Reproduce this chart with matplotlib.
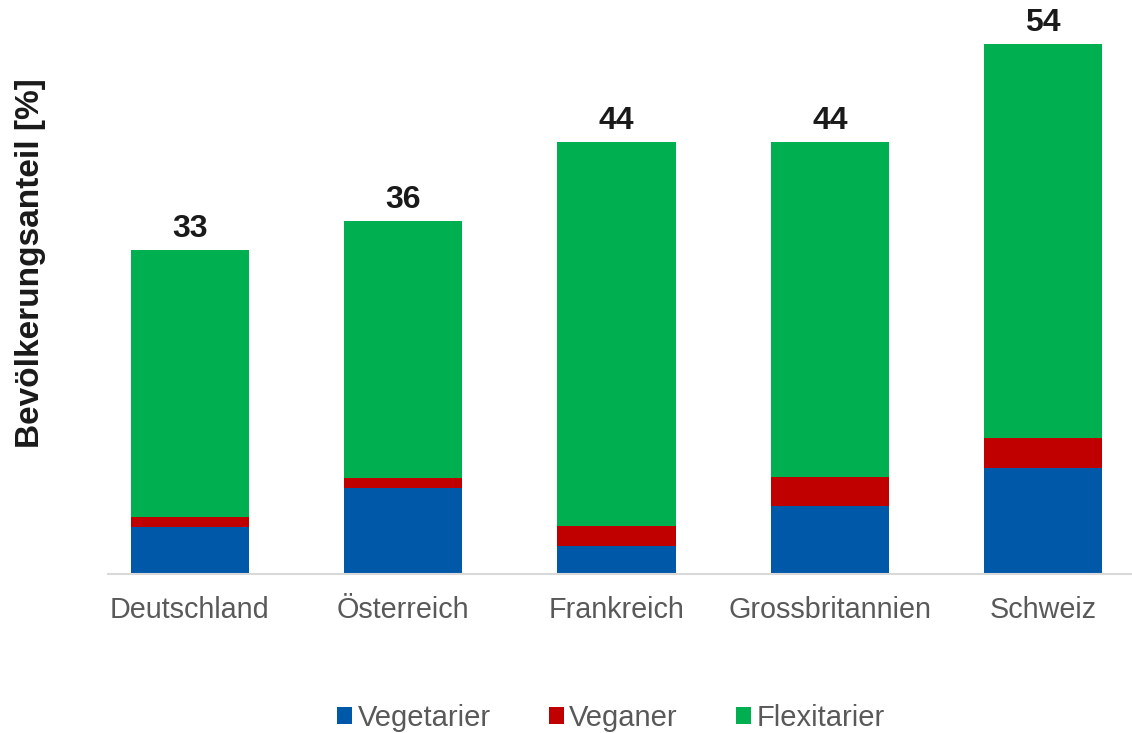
import matplotlib
matplotlib.use("Agg")
import matplotlib.pyplot as plt
from matplotlib.patches import Patch
import numpy as np

plt.rcParams['font.family'] = ['Liberation Sans', 'DejaVu Sans']

countries = ["Deutschland", "Österreich", "Frankreich", "Grossbritannien", "Schweiz"]
vegetarier = [4.8, 8.8, 2.9, 6.9, 10.8]
veganer = [1.0, 1.0, 2.0, 3.0, 3.1]
flexitarier = [27.2, 26.2, 39.1, 34.1, 40.1]
totals = [33, 36, 44, 44, 54]
series_names = ["Vegetarier", "Veganer", "Flexitarier"]
colors = ["#0058A8", "#C00000", "#00B050"]

fig = plt.figure(figsize=(11.32, 7.33), dpi=100)
ax = fig.add_axes([0.0, (733 - 574) / 733, 1.0, 574 / 733])

x = np.arange(len(countries))
w = 0.555
veg = np.array(vegetarier)
vgn = np.array(veganer)
flx = np.array(flexitarier)
ax.bar(x, veg, w, color=colors[0])
ax.bar(x, vgn, w, bottom=veg, color=colors[1])
ax.bar(x, flx, w, bottom=veg + vgn, color=colors[2])

for xi, t, top in zip(x, totals, veg + vgn + flx):
    ax.text(xi, top + 0.6, f"{t}", ha="center", va="bottom", fontsize=23,
            fontweight="bold", color="#1a1a1a")

px0, sp = 190, 213.3
ax.set_xlim(-px0 / sp, (1132 - px0) / sp)
ax.set_ylim(0, 574 / 9.815)

for s in ["top", "right", "left"]:
    ax.spines[s].set_visible(False)
ax.spines["bottom"].set_bounds(-0.385, 4.5)
ax.spines["bottom"].set_color("#d9d9d9")
ax.spines["bottom"].set_linewidth(1.5)
ax.set_yticks([])
ax.set_xticks(x)
ax.set_xticklabels(countries, fontsize=20.7, color="#595959")
ax.tick_params(axis="x", length=0, pad=16)

fig.text(31 / 1132, 1 - 263 / 733, "Bevölkerungsanteil [%]", rotation=90,
         ha="center", va="center", fontsize=24, fontweight="bold", color="#1a1a1a")

handles = [Patch(facecolor=c, label=n) for c, n in zip(colors, series_names)]
leg = fig.legend(handles=handles, loc="center", bbox_to_anchor=(611 / 1132, 1 - 718 / 733),
                 ncol=3, frameon=False, fontsize=21, handlelength=0.5, handleheight=0.5,
                 handletextpad=0.2, columnspacing=2.0, labelcolor="#595959")

fig.savefig("out.png", dpi=100)
